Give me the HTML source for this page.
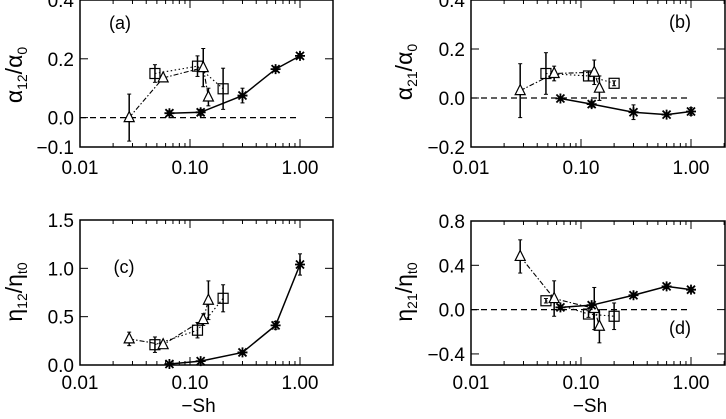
<!DOCTYPE html>
<html><head><meta charset="utf-8"><style>
body{margin:0;background:#fff;width:726px;height:414px;overflow:hidden}
svg{font-family:"Liberation Sans",sans-serif}
</style></head><body>
<svg id="c" width="726" height="414" viewBox="0 0 726 414"></svg>
<script>
// shared x-values
const xStar=[0.065,0.125,0.3,0.6,1.0];
const xTri=[0.028,0.057,0.132,0.147];
const xSq=[0.048,0.117,0.2];
// panel (a)
const aStar=[0.015,0.018,0.075,0.165,0.21], aStarE=[0.008,0.01,0.025,0.008,0.008];
const aTri=[0.0,0.135,0.17,0.07], aTriE=[0.08,0.01,0.065,0.03];
const aSq=[0.15,0.175,0.098], aSqE=[0.03,0.035,0.07];
// panel (b)
const bStar=[-0.002,-0.025,-0.058,-0.068,-0.055], bStarE=[0.005,0.012,0.03,0.005,0.015];
const bTri=[0.03,0.1,0.105,0.04], bTriE=[0.11,0.03,0.05,0.05];
const bSq=[0.1,0.09,0.06], bSqE=[0.085,0.02,0.01];
// panel (c)
const cStar=[0.01,0.04,0.13,0.41,1.04], cStarE=[0.01,0.01,0.02,0.04,0.11];
const cTri=[0.27,0.21,0.47,0.67], cTriE=[0.07,0.03,0.06,0.2];
const cSq=[0.21,0.36,0.69], cSqE=[0.08,0.08,0.14];
// panel (d)
const dStar=[0.02,0.04,0.13,0.21,0.18], dStarE=[0.02,0.02,0.02,0.02,0.02];
const dTri=[0.48,0.1,0.01,-0.15], dTriE=[0.15,0.16,0.19,0.15];
const dSq=[0.08,-0.04,-0.06], dSqE=[0.02,0.03,0.12];
const aTickV=[0.4,0.2,0.0,-0.1];
const bTickV=[0.4,0.2,0.0,-0.2];
const cTickV=[1.5,1.0,0.5,0.0];
const dTickV=[0.8,0.4,0.0,-0.4];
const xTickV=[0.01,0.1,1.0], xTickL=["0.01","0.10","1.00"];

const svg=document.getElementById('c');
const NS='http://www.w3.org/2000/svg';
function mk(tag,attrs,parent){const e=document.createElementNS(NS,tag);for(const k in attrs)e.setAttribute(k,attrs[k]);(parent||svg).appendChild(e);return e;}

function panel(id,L,R,T,B,ymin,ymax,yt,yLabelHTML,titleX,titleY,tag,tagX,tagY,star,starE,tri,triE,sq,sqE,showX,xlabOff){
  const g=mk('g',{});
  
  
  const xs=v=>L+(Math.log10(v)+2)*110;
  const ys=v=>B-(v-ymin)/(ymax-ymin)*(B-T);
  const box=mk('rect',{x:L,y:T,width:R-L,height:B-T,fill:'none',stroke:'#000','stroke-width':1.5},g);
  
  
  for(let d=-2;d<=0;d++){for(let m=1;m<10;m++){const v=m*Math.pow(10,d);const x=xs(v);if(x>R)continue;const len=m==1?8:4;
    mk('line',{x1:x,x2:x,y1:B,y2:B-len,stroke:'#000'},g);mk('line',{x1:x,x2:x,y1:T,y2:T+len,stroke:'#000'},g);}}
  xTickV.forEach((v,i)=>{const t=mk('text',{x:xs(v),y:B+xlabOff,'font-size':19,'text-anchor':'middle'},g);t.textContent=xTickL[i];
    
    });
  yt.forEach(v=>{const y=ys(v);mk('line',{x1:L,x2:L+8,y1:y,y2:y,stroke:'#000'},g);mk('line',{x1:R,x2:R-8,y1:y,y2:y,stroke:'#000'},g);
    const t=mk('text',{x:L-6,y:y+7,'font-size':19,'text-anchor':'end'},g);t.textContent=(v<0?'\u2212'+Math.abs(v).toFixed(1):v.toFixed(1));
    
    });
  if(ymin<0){const z=mk('line',{x1:L,x2:xs(1.0),y1:ys(0),y2:ys(0),stroke:'#000','stroke-width':1.3,'stroke-dasharray':'6,4'},g);
    
    }
  function series(xv,yv,ev,dash,marker,name){
    const pts=xv.map((x,i)=>xs(x)+','+ys(yv[i])).join(' ');
    const pl=mk('polyline',{points:pts,fill:'none',stroke:'#000','stroke-width':dash?1.1:1.5,'stroke-dasharray':dash||'none'},g);
    
    
    xv.forEach((x,i)=>{const px=xs(x),py=ys(yv[i]);
      mk('line',{x1:px,x2:px,y1:ys(yv[i]+ev[i]),y2:ys(yv[i]-ev[i]),stroke:'#000','stroke-width':1.5},g);
      mk('line',{x1:px-2,x2:px+2,y1:ys(yv[i]+ev[i]),y2:ys(yv[i]+ev[i]),stroke:'#000'},g);
      mk('line',{x1:px-2,x2:px+2,y1:ys(yv[i]-ev[i]),y2:ys(yv[i]-ev[i]),stroke:'#000'},g);
      let m;
      if(marker=='star'){m=mk('path',{d:`M${px-5},${py}h10M${px},${py-5}v10M${px-4},${py-4}l8,8M${px-4},${py+4}l8,-8`,stroke:'#000','stroke-width':1.8},g);}
      else if(marker=='tri'){m=mk('polygon',{points:`${px},${py-6} ${px-5},${py+4} ${px+5},${py+4}`,fill:'#fff',stroke:'#000','stroke-width':1.2},g);}
      else {m=mk('rect',{x:px-5,y:py-5,width:10,height:10,fill:'none',stroke:'#000','stroke-width':1.2},g);}
      
      });
  }
  series(xSq,sq,sqE,'1.5,2.5','sq','square-series');
  series(xTri,tri,triE,'5,2,1.5,2','tri','triangle-series');
  series(xStar,star,starE,null,'star','star-series');
  const tg=mk('text',{x:tagX,y:tagY,'font-size':18,'text-anchor':'middle'},g);tg.textContent=tag;
  
  
  const yl=mk('text',{x:titleX,y:titleY,'font-size':23,'text-anchor':'middle',transform:`rotate(-90 ${titleX} ${titleY})`},g);
  yl.innerHTML=yLabelHTML;
  
  
  if(showX){const xl=mk('text',{x:(L+R)/2-8,y:412,'font-size':19,'text-anchor':'middle'},g);xl.textContent='\u2212Sh';
    
    }
}
const sub=(b,s1,s2)=>`${b}<tspan font-size="14" dy="5">${s1}</tspan><tspan dy="-5">/${b}</tspan><tspan font-size="14" dy="5">${s2}</tspan>`;
panel('a',80,333,0,147,-0.1,0.4,aTickV,sub('α','12','0'),22,75,'(a)',120,29,aStar,aStarE,aTri,aTriE,aSq,aSqE,false,27);
panel('b',471,725,0,147,-0.2,0.4,bTickV,sub('α','21','0'),412,72,'(b)',680,28,bStar,bStarE,bTri,bTriE,bSq,bSqE,false,27);
panel('c',80,333,220,365,0,1.5,cTickV,sub('η','12','t0'),22,292,'(c)',124,273,cStar,cStarE,cTri,cTriE,cSq,cSqE,true,24);
panel('d',471,725,221,365,-0.5,0.8,dTickV,sub('η','21','t0'),412,292,'(d)',680,334,dStar,dStarE,dTri,dTriE,dSq,dSqE,true,24);
</script>
</body></html>
